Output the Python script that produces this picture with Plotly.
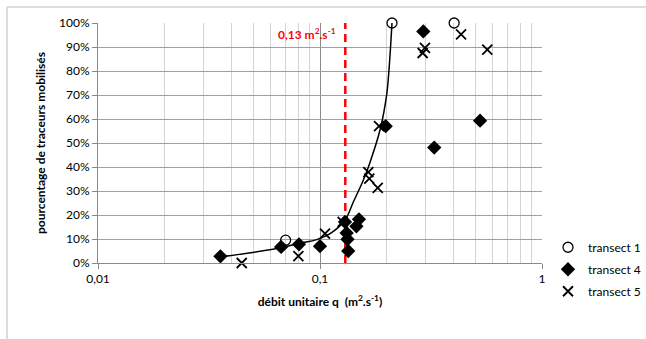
import math
import plotly.graph_objects as go

# ---- data ----
t1_q = [0.070, 0.211, 0.402]
t1_pct = [9.5, 100, 100]

t4_q = [0.0356, 0.0668, 0.0804, 0.100, 0.1296, 0.1318, 0.133, 0.134, 0.1459, 0.1498,
        0.1977, 0.292, 0.327, 0.526]
t4_pct = [2.8, 6.7, 7.8, 7.0, 17.1, 12.5, 9.9, 5.0, 15.3, 18.2,
          57.0, 96.5, 48.1, 59.3]

t5_q = [0.0444, 0.0799, 0.1053, 0.1265, 0.1651, 0.1667, 0.182, 0.1845, 0.290, 0.297,
        0.432, 0.567]
t5_pct = [0.0, 2.9, 12.2, 17.1, 37.9, 35.2, 31.3, 57.0, 87.5, 89.6,
          95.3, 88.9]

curve_q = [0.0355, 0.0638, 0.0799, 0.0967, 0.111, 0.1296, 0.1413, 0.1567, 0.1672, 0.1862,
           0.200, 0.206, 0.211]
curve_pct = [2.5, 6.0, 8.1, 9.75, 12.25, 17.8, 25.4, 34.5, 41.4, 55.3, 70.6, 84.5, 100]

threshold_q = 0.13
threshold_label = "0,13 m<sup>2</sup>.s<sup>-1</sup>"

x_tickvals = [0.01, 0.1, 1]
x_ticktext = ["0,01", "0,1", "1"]
y_tickvals = [0, 10, 20, 30, 40, 50, 60, 70, 80, 90, 100]
y_ticktext = ["0%", "10%", "20%", "30%", "40%", "50%", "60%", "70%", "80%", "90%", "100%"]

FONT = "Lato"

fig = go.Figure()

fig.add_trace(go.Scatter(
    x=curve_q, y=curve_pct, mode="lines",
    line=dict(color="black", width=1.5, shape="spline", smoothing=0.8),
    showlegend=False, hoverinfo="skip", cliponaxis=False))

fig.add_trace(go.Scatter(
    x=[threshold_q, threshold_q], y=[0, 100], mode="lines",
    line=dict(color="#ff0000", width=2.5, dash="8px,5px"), showlegend=False))

fig.add_trace(go.Scatter(
    x=t1_q, y=t1_pct, mode="markers", name="transect 1", legendgroup="t1", cliponaxis=False,
    marker=dict(symbol="circle-open", size=10, color="black", line=dict(width=1.3, color="black"))))
fig.add_trace(go.Scatter(
    x=t4_q, y=t4_pct, mode="markers", name="transect 4", legendgroup="t4", cliponaxis=False,
    marker=dict(symbol="diamond", size=11, color="black")))
fig.add_trace(go.Scatter(
    x=t5_q, y=t5_pct, mode="markers", name="transect 5", legendgroup="t5", cliponaxis=False,
    marker=dict(symbol="x-thin-open", size=10, color="black", line=dict(width=1.8, color="black"))))

fig.add_annotation(
    x=math.log10(threshold_q), y=95.3, xref="x", yref="y", text=threshold_label,
    showarrow=False, xanchor="right", yanchor="middle", xshift=-7,
    font=dict(family=FONT, size=12, color="#ff0000", weight="bold"))

# outer chart border (top and left visible)
fig.add_shape(type="line", xref="paper", yref="paper", x0=-0.205, x1=1.4, y0=1.067, y1=1.067,
              line=dict(color="#d0d0d0", width=1.5))
fig.add_shape(type="line", xref="paper", yref="paper", x0=-0.205, x1=-0.205, y0=-0.4, y1=1.067,
              line=dict(color="#d0d0d0", width=1.5))

fig.update_layout(
    width=646, height=339,
    margin=dict(l=98, r=104, t=23, b=76, autoexpand=False),
    paper_bgcolor="white", plot_bgcolor="white",
    font=dict(family=FONT, size=12, color="black"),
    legend=dict(x=1.0135, y=-0.026, xanchor="left", yanchor="middle", tracegroupgap=3,
                font=dict(family=FONT, size=12), bgcolor="rgba(0,0,0,0)", itemwidth=30),
    xaxis=dict(
        type="log", range=[-2, 0], tickvals=x_tickvals, ticktext=x_ticktext, automargin=False,
        showgrid=True, gridcolor="#8a8a8a", gridwidth=1,
        showline=True, linecolor="#8a8a8a", linewidth=1,
        ticks="outside", ticklen=5, tickcolor="#8a8a8a",
        minor=dict(dtick="D1", showgrid=True, gridcolor="#d4d4d4", gridwidth=1.2, ticks=""),
        title=dict(text="<b>débit unitaire q  (m<sup>2</sup>.s<sup>-1</sup>)</b>",
                   font=dict(family=FONT, size=12), standoff=12),
        zeroline=False, tickfont=dict(family=FONT, size=12)),
    yaxis=dict(
        range=[0, 100], tickvals=y_tickvals, ticktext=y_ticktext, automargin=False,
        showgrid=True, gridcolor="#a0a0a0", gridwidth=1,
        showline=True, linecolor="#8a8a8a", linewidth=1,
        ticks="outside", ticklen=5, tickcolor="#8a8a8a",
        title=dict(text="<b>pourcentage de traceurs mobilisés</b>",
                   font=dict(family=FONT, size=12), standoff=10),
        zeroline=False, tickfont=dict(family=FONT, size=12)),
)

fig.write_html("out.html", config={"displayModeBar": False},
               post_script="document.body.style.margin='0';document.body.style.overflow='hidden';")
